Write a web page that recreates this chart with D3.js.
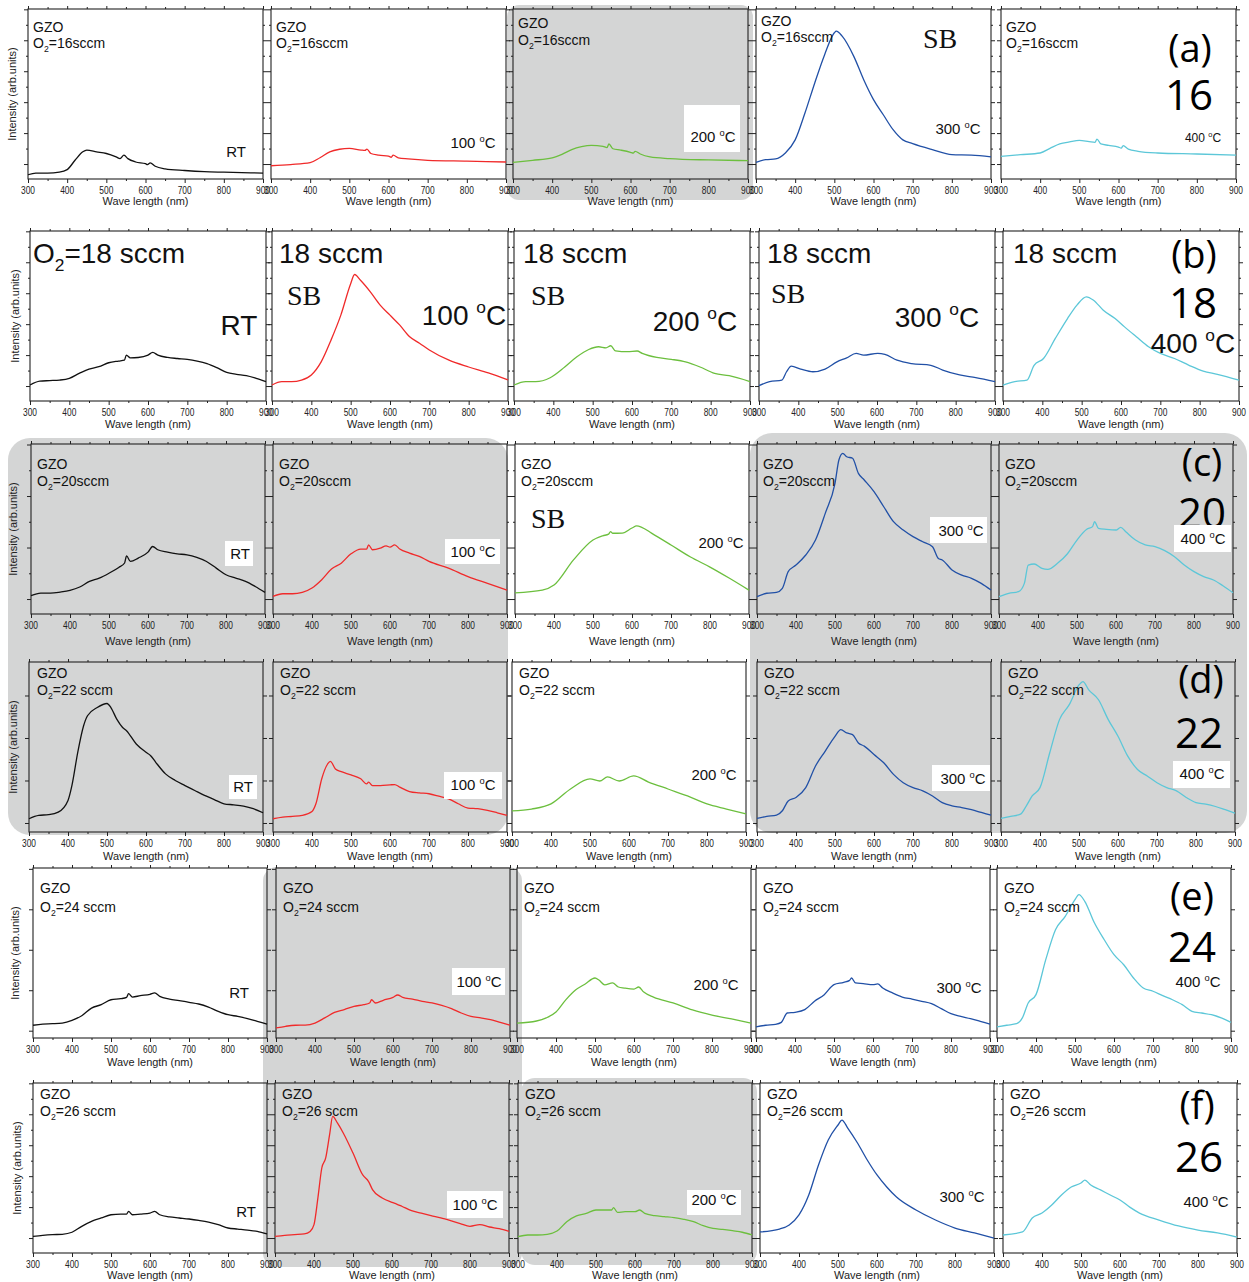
<!DOCTYPE html>
<html>
<head>
<meta charset="utf-8">
<script src="https://cdn.jsdelivr.net/npm/d3@7"></script>
<style>
  body { margin: 0; background: #fff; }
  svg { display: block; font-family: "Liberation Sans", Arial, sans-serif; }
  text { fill: #111; }
</style>
</head>
<body>
<svg id="fig" width="1249" height="1282"></svg>
<script>
// ---- Data: PL spectra of GZO films, intensity in arb. units (0-100 full scale) ----
const flowRates = [16, 18, 20, 22, 24, 26];           // O2 flow (sccm), one row each
const annealTemps = ["RT", "100", "200", "300", "400"]; // one column each
const panelTags = ["(a)", "(b)", "(c)", "(d)", "(e)", "(f)"];
const xMajorTicks = [300, 400, 500, 600, 700, 800, 900];
const xMinorTicks = [350, 450, 550, 650, 750, 850];

// [wavelength nm, intensity] pairs per annealing temperature
const pl16 = [
  [[300,2.5],[320,3.5],[350,3.5],[380,4],[400,5.5],[420,11],[440,16],[450,17],[475,16],[500,15],[525,13],[535,12],[545,14],[555,12],[575,10],[600,9],[605,8.5],[612,9.5],[625,7.5],[650,6],[700,5],[750,4.3],[800,4],[900,3.5]],
  [[300,7.8],[350,8.5],[400,9.6],[425,12.5],[450,16],[475,17.5],[500,18],[530,17],[540,16.8],[545,17.6],[555,15],[575,14],[600,13.5],[607,12.8],[612,14],[625,12.4],[650,11.8],[700,11],[800,10.5],[900,10]],
  [[300,9.8],[350,11],[400,12.4],[425,14.5],[450,17.3],[475,19],[500,19.8],[530,19.2],[540,18.5],[545,20.6],[555,17.8],[575,17],[600,15.7],[607,15.2],[612,16.3],[625,14.7],[650,13],[700,12],[800,11.2],[900,10.8]],
  [[300,9.8],[325,11.4],[350,11.8],[375,15.3],[400,23],[425,38.8],[450,56.5],[475,73],[500,86],[505,87],[520,84],[550,72],[575,58.4],[600,46.7],[625,37.8],[650,29],[675,23],[700,20.8],[750,17.3],[800,14.3],[850,14],[900,13]],
  [[300,13.3],[350,14.3],[400,15.3],[425,18],[450,20.6],[475,21.8],[500,22.7],[525,22],[540,21.6],[545,23.5],[555,20.6],[575,19.8],[600,18.8],[607,18.2],[612,19.6],[625,17.6],[650,16.3],[700,15.3],[800,14.7],[900,14]]
];
const pl18 = [
  [[300,9.4],[325,11.7],[350,12],[375,12.3],[400,13.3],[425,16.2],[450,18.8],[475,20.2],[500,22.5],[525,23.5],[540,24],[545,27],[555,25.4],[575,25.6],[600,27],[612,28.6],[625,27],[650,25.6],[675,25],[700,24.5],[725,23.5],[750,22],[775,19.6],[800,16.8],[825,15.7],[850,14.9],[875,13.3],[900,11.4]],
  [[300,9.4],[325,11.4],[350,11.4],[375,12.3],[400,15.3],[425,23],[450,35.8],[475,50.5],[500,69],[510,74.4],[525,71],[550,64.2],[575,56.4],[600,50.5],[625,44.6],[650,37.8],[675,34],[700,30],[750,24],[800,20],[850,16.5],[900,12.4]],
  [[300,9.4],[330,11.4],[355,11.4],[392,13.7],[429,20],[460,26],[490,30.3],[515,31.9],[534,31.3],[546,32.5],[558,29.5],[589,29],[613,29.4],[626,28],[663,25.6],[700,24.5],[736,23],[773,20],[810,16.2],[847,14.9],[900,11.4]],
  [[300,9],[327,11.4],[358,12.3],[370,17.2],[382,20.5],[406,18.8],[437,17.2],[468,18.8],[498,23],[523,25.4],[547,28],[566,27],[602,28],[620,27.4],[651,24],[688,22],[737,21],[767,18.2],[810,15.3],[851,13.7],[900,11.4]],
  [[300,9.4],[330,11.4],[361,12.3],[379,21],[403,25],[433,36.8],[464,48.5],[488,56.4],[512,61.3],[530,59.3],[555,53.4],[585,48.5],[609,43.6],[639,37.8],[670,31.9],[700,28],[736,25],[773,21],[809,17.6],[845,15.7],[900,12.3]]
];
const pl20 = [
  [[300,10.8],[325,12.3],[350,12.3],[375,12.9],[400,13.9],[425,15.9],[450,19.2],[475,21.1],[500,24],[525,27.4],[540,30],[545,34.2],[555,30.9],[575,32.9],[600,36.4],[612,39.7],[625,37.8],[650,36.4],[675,35.4],[700,34.8],[725,33.3],[750,30.9],[775,27],[800,23.1],[825,21.1],[850,19.2],[875,16.2],[900,12.7]],
  [[300,10.4],[325,11.9],[350,11.9],[375,12.7],[400,15.3],[425,20.2],[450,26.4],[475,29.9],[500,35.4],[525,38.2],[540,38.2],[545,40.7],[555,37.8],[575,38.7],[590,40.1],[600,39.3],[612,40.7],[625,38.2],[650,35.8],[675,33.9],[700,31],[750,27],[800,22],[850,18],[900,14]],
  [[300,12.4],[370,14],[400,17],[450,31.8],[500,43.5],[525,46],[540,47],[545,48.5],[550,47.5],[575,47.6],[600,50.6],[612,51.8],[625,51],[650,47.6],[700,40.6],[750,33.5],[800,27.6],[850,21],[900,14]],
  [[300,10.2],[325,12.2],[350,12.7],[365,15.1],[380,24.9],[400,28.8],[425,34.7],[450,43.5],[475,59.2],[500,76.9],[510,90.6],[520,94.5],[530,92.5],[545,91.6],[560,82.7],[575,78.8],[600,72],[625,63.1],[650,54.3],[675,49.4],[700,45.5],[725,42.5],[750,39.6],[765,32.7],[775,31.8],[800,25.9],[825,22.9],[850,21],[875,18],[900,14.1]],
  [[300,10.2],[325,12.2],[350,13.1],[365,18],[375,28.8],[390,29.4],[410,26.9],[425,26.3],[450,29.8],[475,35.3],[500,43.5],[525,49.8],[540,51.4],[545,54.3],[555,50.4],[575,49.8],[600,49.4],[612,51],[625,48.4],[650,43.5],[675,40.6],[700,39.6],[725,37.3],[750,33.7],[775,28.8],[800,24.9],[825,22],[850,20],[875,16.5],[900,12.5]]
];
const pl22 = [
  [[300,7.8],[325,9.8],[350,10.2],[375,11.7],[400,18.6],[410,27.3],[425,46.9],[440,62.5],[450,68.4],[475,73.2],[500,75.6],[510,73.2],[525,66.4],[540,61.5],[550,59.6],[575,51.8],[600,46.9],[612,44.9],[625,41],[650,34.2],[675,30.3],[700,27.3],[725,24.4],[750,21.5],[775,19.1],[800,16.6],[825,16],[850,15.2],[875,13.7],[900,11.3]],
  [[300,7.8],[325,8.8],[350,9.2],[375,9.8],[400,12.1],[410,16.6],[425,31.3],[440,40],[447,41.6],[460,37.1],[475,35.5],[500,33.6],[525,31.3],[540,28.3],[545,29.3],[555,27.3],[575,27.3],[600,27.7],[612,27.9],[625,26.4],[650,23.8],[675,23],[700,22.5],[725,21.1],[750,19.5],[775,16.6],[800,14.1],[825,13.7],[850,12.7],[875,11.3],[900,9.8]],
  [[300,12.4],[350,13.5],[400,16.5],[450,25.3],[500,31.2],[525,30],[545,32.4],[575,30],[612,33],[650,29.4],[700,25.3],[750,21.2],[800,16.5],[850,13.5],[900,10.6]],
  [[300,8],[325,9.2],[350,9.9],[365,12.5],[380,18.3],[400,20.3],[425,26.1],[450,38.8],[475,47.6],[500,56.3],[515,60.2],[530,58.3],[545,57.3],[560,52.4],[575,50.5],[600,45.6],[625,40.7],[650,33.9],[675,29],[700,26.1],[725,24.2],[750,21.2],[775,17.3],[800,15.4],[825,14.4],[850,13.1],[875,11.5],[900,9.9]],
  [[300,8],[325,9.2],[350,10.5],[365,15.4],[380,21.2],[400,26.1],[425,46.6],[450,66.1],[475,74.9],[500,86.5],[510,88.5],[525,83.6],[550,77.8],[575,66.1],[600,56.3],[625,44.6],[650,36.8],[675,32.9],[700,29],[725,26.1],[750,24.2],[775,20.3],[800,17.3],[825,16.4],[850,15],[875,13.1],[900,11.1]]
];
const pl24 = [
  [[300,7.5],[325,8.2],[350,8.4],[375,8.8],[400,10.4],[425,13.1],[450,17.6],[475,19.6],[500,22.5],[525,23.1],[540,23.9],[545,26.1],[555,24.1],[575,24.9],[600,25.7],[612,26.5],[625,24.5],[650,22.9],[675,22],[700,21],[725,20],[750,18.2],[775,15.7],[800,13.7],[825,12.7],[850,11.4],[875,9.8],[900,8.2]],
  [[300,5.9],[325,6.9],[350,7.5],[375,7.6],[400,8.8],[425,11.8],[450,15.1],[475,16.7],[500,18.6],[525,19.6],[540,20.6],[545,22.5],[555,20.6],[575,22.2],[600,23.9],[612,25.3],[625,23.9],[650,22.9],[675,21.6],[700,20.6],[725,19.2],[750,17.3],[775,14.7],[800,12.7],[825,11.8],[850,10.8],[875,9.2],[900,7.5]],
  [[300,8.8],[350,10],[375,11.8],[400,15.3],[425,22.4],[450,28.2],[475,31.8],[500,35.3],[510,34.1],[525,31.2],[545,32.4],[560,30],[575,29.4],[600,28.8],[612,30],[625,27],[650,24.1],[700,20.6],[750,16.5],[800,13.5],[850,11.2],[900,8.8]],
  [[300,6.5],[325,7.5],[350,8],[365,9.2],[380,14.7],[400,15.1],[425,16.7],[450,21.6],[475,25.5],[500,31.4],[525,32.7],[540,33.9],[545,35.3],[555,32.4],[575,32],[600,31.4],[612,31.8],[625,29.4],[650,26.5],[675,24.1],[700,22.9],[725,21.6],[750,20.2],[775,17.3],[800,14.3],[825,12.7],[850,11.4],[875,9.8],[900,8.2]],
  [[300,6.5],[325,7.5],[350,8.4],[365,11.8],[380,20.6],[400,25.5],[425,46.1],[450,63.7],[475,71.6],[500,81.4],[510,84.3],[525,80.4],[550,67.6],[575,57.8],[600,49],[625,43.1],[650,35.3],[675,29.4],[700,27.5],[725,24.9],[750,22.5],[775,19.6],[800,15.7],[825,14.7],[850,13.7],[875,11.8],[900,9.2]]
];
const pl26 = [
  [[300,9.8],[325,10.4],[350,10.8],[375,11],[400,12.2],[425,15.7],[450,18.6],[475,20.6],[500,22.5],[525,22.9],[540,22.9],[545,24.5],[555,22.5],[575,22.9],[600,23.5],[612,24.5],[625,22.5],[650,21.2],[675,20.6],[700,20],[725,19.2],[750,18.2],[775,16.7],[800,14.7],[825,14.1],[850,13.5],[875,12.7],[900,11.2]],
  [[300,9.8],[325,10.4],[350,10.8],[375,11.2],[390,12.7],[400,16.7],[410,32.4],[420,50],[430,55.9],[440,69.6],[448,80.4],[460,76.5],[475,70.6],[500,58.8],[525,45.9],[540,42],[550,37.3],[575,32.4],[600,29.8],[612,28.8],[625,27.5],[650,24.9],[675,23.5],[700,22],[725,20.6],[750,19],[775,17.3],[800,15.7],[825,16.7],[850,15.3],[875,14.3],[900,12.7]],
  [[300,9.6],[325,10.6],[350,10.6],[375,11],[400,12.9],[425,18.4],[450,21.8],[475,23.3],[500,25.3],[525,25.3],[540,25.3],[545,26.7],[555,23.9],[575,24.3],[600,24.3],[612,25.3],[625,23.3],[650,22],[675,21.4],[700,20.8],[725,19.8],[750,18.4],[775,16.1],[800,14.5],[825,13.9],[850,13.1],[875,12.2],[900,10.6]],
  [[300,12.4],[350,14.1],[375,16.5],[400,22.4],[425,34.1],[450,51.8],[475,66.5],[500,75.3],[510,78.2],[525,73.5],[550,64.7],[575,54.7],[600,45.9],[625,38.8],[650,32.9],[700,25.3],[750,19.4],[800,14.7],[850,11.8],[900,8.8]],
  [[300,10.6],[350,12.4],[375,20.6],[400,23.5],[425,28.2],[450,34.1],[475,38.8],[500,41.2],[510,42.9],[525,40],[550,37.1],[575,34.1],[600,31.2],[625,27],[650,23.5],[700,19.4],[750,15.9],[800,13.5],[850,11.8],[900,9.4]]
];
const spectra = [pl16, pl18, pl20, pl22, pl24, pl26];

// ---- Styling and layout ----
const traceColors = ["#111111", "#f02a2a", "#6cbf3e", "#2150a6", "#5cc7d8"];
const shade = "#d4d5d5";
const plotH = 170;
const serif = "'Liberation Serif', 'Times New Roman', serif";
const tagFont = "'Open Sans', 'Noto Sans', sans-serif";

// Rounded grey highlight blocks behind selected panels: [x, y, w, h, r]
const highlightBlocks = [
  [507, 5, 246, 195, 12],
  [8, 438, 500, 397, 22],
  [750, 433, 497, 400, 22],
  [263, 867, 259, 400, 14],
  [521, 1078, 236, 187, 14]
];

// Per-row placement; annotation offsets are relative to each panel's top-left corner
const rowsLayout = [
  { top: 9, lefts: [28, 271, 513, 756, 1001], w: 235, yt: [8.8, 18.2, true], ylabX: 12, titleDy: 22,
    head: [[5, 23, 39], [5, 23, 39], [5, 19, 36], [5, 17, 33], [5, 23, 39]], spaced: false,
    temp: [[208, 148, 15], [202, 139, 15], [200, 133, 15], [202, 125, 15], [202, 133, 12]],
    box: [null, null, [171, 96, 56, 47], null, null],
    sb: [null, null, null, [167, 39], null],
    tag: [189, 53], num: [188, 101] },
  { top: 231, lefts: [30, 272, 514, 759, 1003], w: 236, yt: [8.8, 18.2, true], ylabX: 15, titleDy: 23,
    big: [[3, 32], [7, 32], [9, 32], [8, 32], [10, 32]],
    temp: [[209, 104, 28], [192, 94, 28], [181, 100, 28], [178, 96, 28], [190, 122, 28]],
    box: [null, null, null, null, null],
    sb: [null, [15, 74], [17, 74], [12, 72], null],
    tag: [191, 37], num: [190, 87] },
  { top: 444, lefts: [31, 273, 515, 757, 999], w: 234, yt: [8.8, 30.3, true], ylabX: 13, titleDy: 27,
    head: [[6, 25, 42], [6, 25, 42], [6, 25, 42], [6, 25, 42], [6, 25, 42]], spaced: false,
    temp: [[209, 115, 15], [200, 113, 15], [206, 104, 15], [204, 92, 15], [204, 100, 15]],
    box: [[194, 97, 28, 25], [172, 95, 55, 25], null, [173, 73, 57, 26], [175, 81, 57, 27]],
    sb: [null, null, [16, 84], null, null],
    tag: [203, 32], num: [203, 84] },
  { top: 662, lefts: [29, 273, 512, 757, 1001], w: 234, yt: [5.3, 25, false], ylabX: 13, titleDy: 24,
    head: [[8, 16, 33], [7, 16, 33], [7, 16, 33], [7, 16, 33], [7, 16, 33]], spaced: true,
    temp: [[214, 130, 15], [200, 128, 15], [202, 118, 15], [206, 122, 15], [201, 117, 15]],
    box: [[200, 113, 28, 24], [171, 110, 58, 27], null, [175, 103, 58, 26], [172, 99, 57, 27]],
    sb: [null, null, null, null, null],
    tag: [200, 31], num: [198, 86] },
  { top: 868, lefts: [33, 276, 517, 756, 997], w: 234, yt: [4.3, 23.8, false], ylabX: 15, titleDy: 24,
    head: [[7, 25, 44], [7, 25, 44], [7, 25, 44], [7, 25, 44], [7, 25, 44]], spaced: true,
    temp: [[206, 130, 15], [203, 119, 15], [199, 122, 15], [203, 125, 15], [201, 119, 15]],
    box: [null, [176, 100, 53, 27], null, null, null],
    sb: [null, null, null, null, null],
    tag: [195, 42], num: [195, 94] },
  { top: 1083, lefts: [33, 275, 518, 760, 1003], w: 234, yt: [8.8, 18.2, true], ylabX: 17, titleDy: 22,
    head: [[7, 16, 33], [7, 16, 33], [7, 16, 33], [7, 16, 33], [7, 16, 33]], spaced: true,
    temp: [[213, 134, 15], [200, 127, 15], [196, 122, 15], [202, 119, 15], [203, 124, 15]],
    box: [null, [172, 108, 56, 27], [169, 107, 54, 25], null, null],
    sb: [null, null, null, null, null],
    tag: [194, 36], num: [196, 89] }
];

const svg = d3.select("#fig");

// grey highlight blocks
svg.append("g").selectAll("rect").data(highlightBlocks).join("rect")
  .attr("x", d => d[0]).attr("y", d => d[1]).attr("width", d => d[2]).attr("height", d => d[3])
  .attr("rx", d => d[4]).attr("fill", shade);

const line = d3.line().curve(d3.curveMonotoneX);

function tempLabel(g, label, x, y, size) {
  const t = g.append("text").attr("x", x).attr("y", y).attr("text-anchor", "middle")
    .attr("font-size", size);
  if (label === "RT") { t.text("RT"); return; }
  t.append("tspan").text(label + " ");
  t.append("tspan").attr("font-size", size * 0.62).attr("dy", -size * 0.42).text("o");
  t.append("tspan").attr("dy", size * 0.42).text("C");
}

function flowLabel(g, x, y, size, flow, spaced, withO2) {
  const t = g.append("text").attr("x", x).attr("y", y).attr("font-size", size);
  if (withO2) {
    t.append("tspan").text("O");
    t.append("tspan").attr("font-size", size * 0.62).attr("dy", size * 0.28).text("2");
    t.append("tspan").attr("dy", -size * 0.28).text("=" + flow + (spaced ? " " : "") + "sccm");
  } else {
    t.text(flow + " sccm");
  }
}

rowsLayout.forEach((row, ri) => {
  const flow = flowRates[ri];
  const top = row.top, bottom = top + plotH;
  const [tStart, tStep, hasMinor] = row.yt;
  const yMajor = d3.range(tStart, 100.5, tStep);
  const yMinor = hasMinor ? yMajor.map(v => v + tStep / 2).filter(v => v < 100) : [];

  row.lefts.forEach((left, ci) => {
    const g = svg.append("g");
    const x = d3.scaleLinear().domain([300, 900]).range([left, left + row.w]);
    const y = d3.scaleLinear().domain([0, 100]).range([bottom, top]);

    const strip = sel => sel.call(s => s.select(".domain").remove())
      .call(s => s.selectAll("line").attr("stroke", "#222"));

    // ticks on all four sides, pointing outward
    g.append("g").attr("transform", `translate(0,${bottom})`)
      .call(d3.axisBottom(x).tickValues(xMajorTicks).tickSize(4).tickFormat("")).call(strip);
    g.append("g").attr("transform", `translate(0,${bottom})`)
      .call(d3.axisBottom(x).tickValues(xMinorTicks).tickSize(2).tickFormat("")).call(strip);
    g.append("g").attr("transform", `translate(0,${top})`)
      .call(d3.axisTop(x).tickValues(xMajorTicks).tickSize(3).tickFormat("")).call(strip);
    g.append("g").attr("transform", `translate(0,${top})`)
      .call(d3.axisTop(x).tickValues(xMinorTicks).tickSize(2).tickFormat("")).call(strip);
    g.append("g").attr("transform", `translate(${left},0)`)
      .call(d3.axisLeft(y).tickValues(yMajor).tickSize(4).tickFormat("")).call(strip);
    g.append("g").attr("transform", `translate(${left + row.w},0)`)
      .call(d3.axisRight(y).tickValues(yMajor).tickSize(4).tickFormat("")).call(strip);
    if (yMinor.length) {
      g.append("g").attr("transform", `translate(${left},0)`)
        .call(d3.axisLeft(y).tickValues(yMinor).tickSize(2).tickFormat("")).call(strip);
      g.append("g").attr("transform", `translate(${left + row.w},0)`)
        .call(d3.axisRight(y).tickValues(yMinor).tickSize(2).tickFormat("")).call(strip);
    }

    // frame
    g.append("rect").attr("x", x(300)).attr("y", y(100))
      .attr("width", x(900) - x(300)).attr("height", y(0) - y(100))
      .attr("fill", "none").attr("stroke", "#222").attr("stroke-width", 1.1);

    // tick labels
    g.selectAll(".xl").data(xMajorTicks).join("text")
      .attr("x", d => x(d)).attr("y", bottom + 15)
      .attr("text-anchor", "middle").attr("font-size", 11)
      .attr("textLength", 14).attr("lengthAdjust", "spacingAndGlyphs")
      .style("fill", "#222").text(d => d);
    g.append("text").attr("x", (x(300) + x(900)) / 2).attr("y", bottom + row.titleDy + 4)
      .attr("text-anchor", "middle").attr("font-size", 11.5)
      .attr("textLength", 86).attr("lengthAdjust", "spacingAndGlyphs")
      .style("fill", "#222").text("Wave length (nm)");

    // spectrum
    g.append("path").datum(spectra[ri][ci])
      .attr("d", line.x(d => x(d[0])).y(d => y(d[1])))
      .attr("fill", "none").attr("stroke", traceColors[ci])
      .attr("stroke-width", 1.3).attr("stroke-linejoin", "round");

    // sample header
    if (row.big) {
      const [hx, hy] = row.big[ci];
      flowLabel(g, left + hx, top + hy, 28, flow, true, ci === 0);
    } else {
      const [hx, hy1, hy2] = row.head[ci];
      g.append("text").attr("x", left + hx).attr("y", top + hy1).attr("font-size", 14).text("GZO");
      flowLabel(g, left + hx, top + hy2, 14, flow, row.spaced, true);
    }

    if (row.sb[ci]) {
      g.append("text").attr("x", left + row.sb[ci][0]).attr("y", top + row.sb[ci][1])
        .style("font-family", serif).attr("font-size", 28).text("SB");
    }

    // panel tag and flow number in the last column
    if (ci === 4) {
      g.append("text").attr("x", left + row.tag[0]).attr("y", top + row.tag[1])
        .attr("text-anchor", "middle").style("font-family", tagFont)
        .attr("font-size", 38).style("fill", "#000").text(panelTags[ri]);
      g.append("text").attr("x", left + row.num[0]).attr("y", top + row.num[1])
        .attr("text-anchor", "middle").style("font-family", tagFont)
        .attr("font-size", 42).style("fill", "#000").text(flow);
    }

    if (row.box[ci]) {
      const [bx, by, bw, bh] = row.box[ci];
      g.append("rect").attr("x", left + bx).attr("y", top + by)
        .attr("width", bw).attr("height", bh).attr("fill", "#fff");
    }
    const [tx, ty, ts] = row.temp[ci];
    tempLabel(g, annealTemps[ci], left + tx, top + ty, ts);
  });

  // y-axis title on the first panel of each row
  svg.append("text")
    .attr("transform", `translate(${row.ylabX + 4},${top + plotH / 2}) rotate(-90)`)
    .attr("text-anchor", "middle").attr("font-size", 11).style("fill", "#222")
    .text("Intensity (arb.units)");
});
</script>
</body>
</html>
